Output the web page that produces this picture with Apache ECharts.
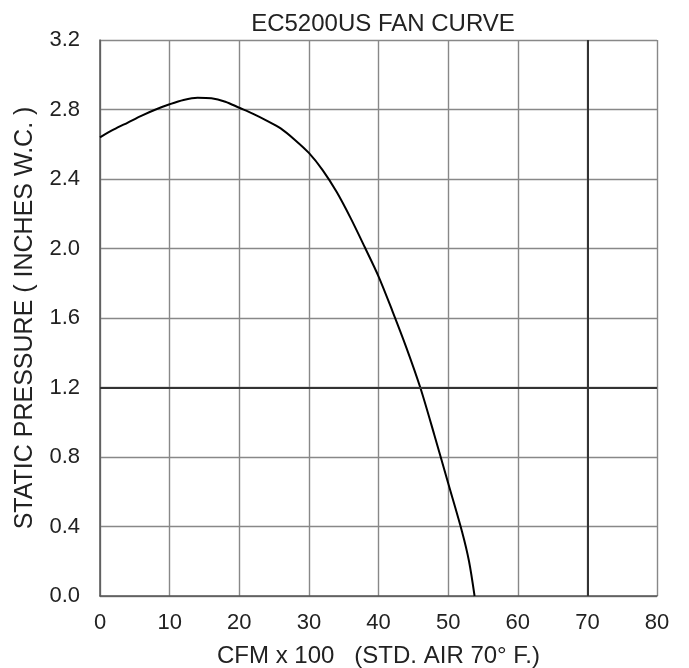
<!DOCTYPE html>
<html>
<head>
<meta charset="utf-8">
<script src="https://cdn.jsdelivr.net/npm/echarts@6/dist/echarts.min.js"></script>
<style>
html,body{margin:0;padding:0;background:#fff;}
#c{width:689px;height:668px;}
</style>
</head>
<body>
<div id="c"></div>
<script>
var cfm = [0, 2, 4, 6, 8, 10, 12, 14, 16, 18, 20, 22, 24, 26, 28, 30, 32, 34, 36, 38, 40, 42, 44, 46, 48, 50, 52, 53, 53.8];
var pressure = [2.64, 2.685, 2.725, 2.765, 2.80, 2.83, 2.855, 2.868, 2.865, 2.845, 2.81, 2.775, 2.735, 2.69, 2.625, 2.55, 2.45, 2.325, 2.175, 2.01, 1.84, 1.64, 1.43, 1.20, 0.93, 0.65, 0.37, 0.20, 0.0];
var titleText = 'EC5200US FAN CURVE';
var xName = 'CFM x 100   (STD. AIR 70\u00b0 F.)';
var yName = 'STATIC PRESSURE ( INCHES W.C. )';
var darkX = [70];
var darkY = [1.2];

var font = 'Liberation Sans, Arial, sans-serif';
var data = cfm.map(function(x, i){ return [x, pressure[i]]; });
var chart = echarts.init(document.getElementById('c'));
chart.setOption({
  animation: false,
  backgroundColor: '#fff',
  title: {
    text: titleText, left: 378, top: 7, textAlign: 'center',
    textStyle: {fontFamily: font, fontSize: 24, fontWeight: 'normal', color: '#222'}
  },
  grid: {left: 100, right: 32, top: 40, bottom: 72, outerBoundsMode: 'none', containLabel: false},
  xAxis: {
    type: 'value', min: 0, max: 80, interval: 10,
    name: xName, nameLocation: 'middle', nameGap: 48,
    nameTextStyle: {fontFamily: font, fontSize: 24, color: '#222'},
    axisLine: {show: true, lineStyle: {color: '#555', width: 1.5}},
    axisTick: {show: false},
    axisLabel: {fontFamily: font, fontSize: 22, color: '#222', margin: 16},
    splitLine: {show: true, lineStyle: {color: '#888', width: 1.4}}
  },
  yAxis: {
    type: 'value', min: 0, max: 3.2, interval: 0.4,
    name: yName, nameLocation: 'middle', nameGap: 62,
    nameTextStyle: {fontFamily: font, fontSize: 25, color: '#222'},
    axisLine: {show: true, lineStyle: {color: '#555', width: 1.5}},
    axisTick: {show: false},
    axisLabel: {fontFamily: font, fontSize: 22, color: '#222', margin: 20,
      formatter: function(v){ return v.toFixed(1); }},
    splitLine: {show: true, lineStyle: {color: '#888', width: 1.4}}
  },
  series: [{
    type: 'line', data: data, smooth: 0.3, showSymbol: false,
    lineStyle: {color: '#000', width: 2},
    markLine: {
      silent: true, symbol: 'none', label: {show: false},
      lineStyle: {color: '#333', width: 2, type: 'solid'},
      data: darkX.map(function(v){ return {xAxis: v}; }).concat(darkY.map(function(v){ return {yAxis: v}; }))
    }
  }]
});
</script>
</body>
</html>
